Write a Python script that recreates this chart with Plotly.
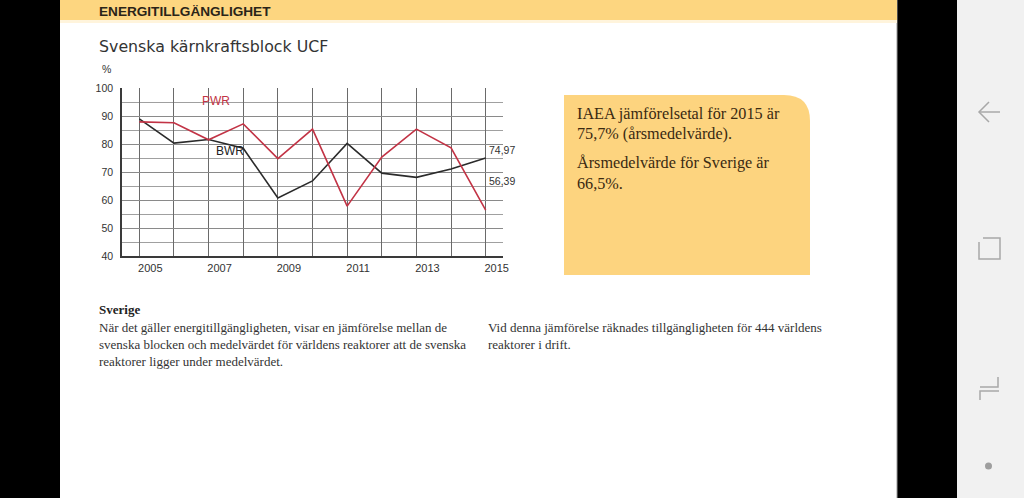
import plotly.graph_objects as go

W, H = 1024, 498

# ---- data ----
years = [2005, 2006, 2007, 2008, 2009, 2010, 2011, 2012, 2013, 2014, 2015]
pwr = [87.9, 87.6, 81.5, 87.2, 74.8, 85.3, 57.8, 75.3, 85.3, 78.6, 56.39]
bwr = [89.0, 80.3, 81.6, 78.5, 60.7, 66.8, 80.2, 69.6, 68.1, 71.1, 74.97]
x_tick_labels = ["2005", "", "2007", "", "2009", "", "2011", "", "2013", "", "2015"]
y_ticks = [40, 50, 60, 70, 80, 90, 100]

def px(x):
    return x / W

def py(y):
    return 1 - y / H

fig = go.Figure()
fig.add_trace(go.Scatter(x=years, y=bwr, mode="lines", name="BWR",
                         line=dict(color="#2b2b2b", width=1.6), showlegend=False,
                         hoverinfo="skip"))
fig.add_trace(go.Scatter(x=years, y=pwr, mode="lines", name="PWR",
                         line=dict(color="#c23345", width=1.6), showlegend=False,
                         hoverinfo="skip"))

shapes = []
shapes.append(dict(type="rect", xref="paper", yref="paper", x0=px(60), x1=px(897), y0=0, y1=1,
                   fillcolor="white", line=dict(width=0), layer="below"))
shapes.append(dict(type="line", xref="paper", yref="paper", x0=px(897), x1=px(897), y0=0, y1=1,
                   line=dict(color="#9a9a9a", width=1), layer="below"))
shapes.append(dict(type="rect", xref="paper", yref="paper", x0=px(957), x1=1, y0=0, y1=1,
                   fillcolor="#f1f1f1", line=dict(width=0), layer="below"))
shapes.append(dict(type="rect", xref="paper", yref="paper", x0=px(60), x1=px(897), y0=py(20), y1=1,
                   fillcolor="#fdd680", line=dict(width=0), layer="below"))
shapes.append(dict(type="rect", xref="paper", yref="paper", x0=px(60), x1=px(897), y0=py(23), y1=py(20),
                   fillcolor="#fff4dc", line=dict(width=0), layer="below"))
bx0, bx1, by0, by1, r = 564, 810, 95, 275, 26
path = (f"M {px(bx0)},{py(by1)} L {px(bx0)},{py(by0)} L {px(bx1 - r)},{py(by0)} "
        f"Q {px(bx1)},{py(by0)} {px(bx1)},{py(by0 + r)} L {px(bx1)},{py(by1)} Z")
shapes.append(dict(type="path", xref="paper", yref="paper", path=path,
                   fillcolor="#fdd47f", line=dict(width=0), layer="below"))
g = "#a8a8a8"
shapes.append(dict(type="path", xref="paper", yref="paper",
                   path=f"M {px(989)},{py(102)} L {px(979)},{py(112)} L {px(989)},{py(122)}",
                   line=dict(color=g, width=1.5), layer="below"))
shapes.append(dict(type="line", xref="paper", yref="paper", x0=px(980), x1=px(1000), y0=py(112), y1=py(112),
                   line=dict(color=g, width=1.5), layer="below"))
shapes.append(dict(type="path", xref="paper", yref="paper",
                   path=(f"M {px(983)},{py(238)} L {px(1000)},{py(238)} L {px(1000)},{py(259)} "
                         f"L {px(979)},{py(259)} L {px(979)},{py(242)}"),
                   line=dict(color=g, width=1.5), layer="below"))
shapes.append(dict(type="path", xref="paper", yref="paper",
                   path=(f"M {px(998)},{py(377)} L {px(998)},{py(387)} L {px(980)},{py(387)} "
                         f"M {px(980)},{py(400)} L {px(980)},{py(391)} L {px(999)},{py(391)}"),
                   line=dict(color=g, width=1.5), layer="below"))
shapes.append(dict(type="circle", xref="paper", yref="paper", x0=px(985), x1=px(992), y0=py(469.5), y1=py(462.5),
                   fillcolor="#9e9e9e", line=dict(width=0), layer="below"))

ann = []
def text(x, y, s, size, color="#222", family="Liberation Sans", anchor="left", bold=False, yanchor="middle"):
    if bold:
        s = f"<b>{s}</b>"
    ann.append(dict(xref="paper", yref="paper", x=px(x), y=py(y), text=s, showarrow=False,
                    xanchor=anchor, yanchor=yanchor, xshift=-2,
                    font=dict(size=size, color=color, family=family)))

text(99, 12, "ENERGITILLGÄNGLIGHET", 13.6, "#2a2418", "Liberation Sans", bold=True)
text(99, 46, "Svenska kärnkraftsblock UCF", 15.8, "#333", "DejaVu Sans")
text(102, 69, "%", 10.5, "#333")
text(202, 101, "PWR", 12, "#c23345")
text(216, 151, "BWR", 12, "#222")
text(489, 150, "74,97", 10.5, "#333")
text(489, 181, "56,39", 10.5, "#333")

serif = "Liberation Serif"
text(577, 114, "IAEA jämförelsetal för 2015 är", 16.2, "#3a2a12", serif)
text(577, 134, "75,7% (årsmedelvärde).", 16.2, "#3a2a12", serif)
text(577, 163, "Årsmedelvärde för Sverige är", 16.2, "#3a2a12", serif)
text(577, 184, "66,5%.", 16.2, "#3a2a12", serif)

text(99, 309, "Sverige", 13, "#222", serif, bold=True)
text(99, 327, "När det gäller energitillgängligheten, visar en jämförelse mellan de", 13, "#333", serif)
text(99, 344, "svenska blocken och medelvärdet för världens reaktorer att de svenska", 13, "#333", serif)
text(99, 361, "reaktorer ligger under medelvärdet.", 13, "#333", serif)
text(488, 327, "Vid denna jämförelse räknades tillgängligheten för 444 världens", 13, "#333", serif)
text(488, 344, "reaktorer i drift.", 13, "#333", serif)

fig.update_layout(
    width=W, height=H, autosize=False,
    margin=dict(l=0, r=0, t=0, b=0, pad=0, autoexpand=False),
    paper_bgcolor="black",
    plot_bgcolor="rgba(0,0,0,0)",
    shapes=shapes,
    annotations=ann,
    showlegend=False,
    xaxis=dict(domain=[px(122), px(503)], range=[2004.5, 2015.5], automargin=False,
               tickvals=years, ticktext=x_tick_labels, ticklabelshift=11,
               ticks="outside", ticklen=1, tickcolor="rgba(0,0,0,0)",
               showgrid=True, gridcolor="#6a6a6a", gridwidth=1,
               showline=True, linecolor="#3a3a3a", linewidth=2.2,
               zeroline=False, fixedrange=True,
               tickfont=dict(size=11, color="#333", family="Liberation Sans")),
    yaxis=dict(domain=[py(256), py(88)], range=[40, 100], automargin=False,
               tickvals=y_ticks, ticks="outside", ticklen=5, tickcolor="rgba(0,0,0,0)",
               showgrid=True, gridcolor="#8a8a8a", gridwidth=1,
               minor=dict(dtick=5, tick0=40, showgrid=True, gridcolor="#a0a0a0", gridwidth=1),
               showline=True, linecolor="#3a3a3a", linewidth=1.5,
               zeroline=False, fixedrange=True,
               tickfont=dict(size=10.5, color="#333", family="Liberation Sans")),
)

fig.write_html("out.html", config=dict(displayModeBar=False),
               post_script=("document.documentElement.style.overflow='hidden';"
                            "document.documentElement.style.margin='0';"
                            "document.body.style.margin='0';"
                            "document.body.style.padding='0';"
                            "document.body.style.overflow='hidden';"
                            "document.body.style.background='black';"))
